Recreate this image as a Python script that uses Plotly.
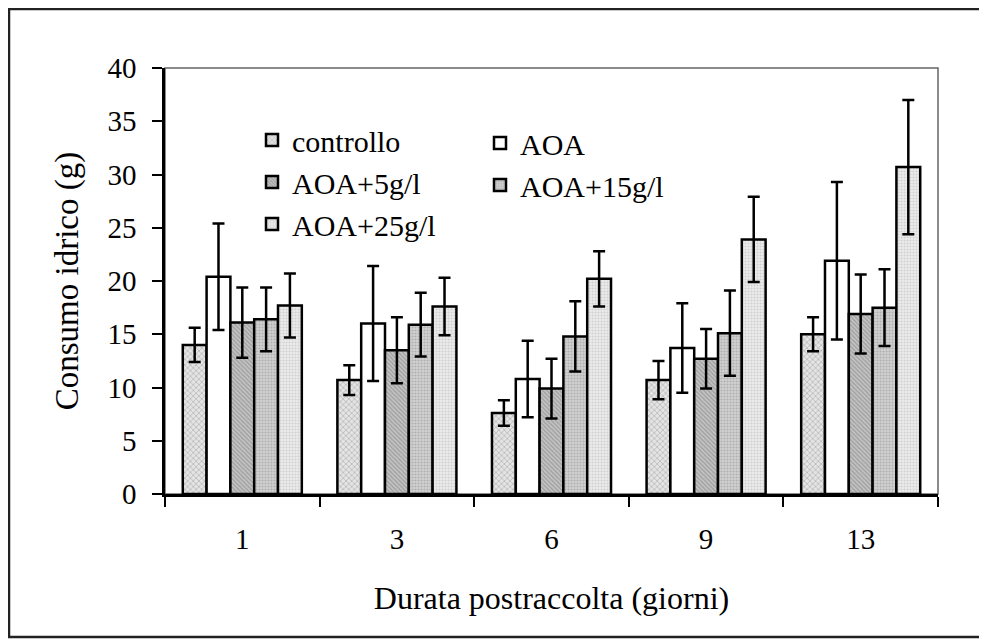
import plotly.graph_objects as go

days = ["1", "3", "6", "9", "13"]
series_names = ["controllo", "AOA", "AOA+5g/l", "AOA+15g/l", "AOA+25g/l"]
controllo = [14.0, 10.7, 7.6, 10.7, 15.0]
controllo_err = [1.6, 1.4, 1.2, 1.8, 1.6]
aoa = [20.4, 16.0, 10.8, 13.7, 21.9]
aoa_err = [5.0, 5.4, 3.6, 4.2, 7.4]
aoa5 = [16.1, 13.5, 9.9, 12.7, 16.9]
aoa5_err = [3.3, 3.1, 2.8, 2.8, 3.7]
aoa15 = [16.4, 15.9, 14.8, 15.1, 17.5]
aoa15_err = [3.0, 3.0, 3.3, 4.0, 3.6]
aoa25 = [17.7, 17.6, 20.2, 23.9, 30.7]
aoa25_err = [3.0, 2.7, 2.6, 4.0, 6.3]

values = [controllo, aoa, aoa5, aoa15, aoa25]
errors = [controllo_err, aoa_err, aoa5_err, aoa15_err, aoa25_err]
patterns = [
    dict(shape="x", size=4, fgcolor="#8a8a8a", bgcolor="#e4e4e4", solidity=0.35),
    dict(shape="", bgcolor="white"),
    dict(shape="\\", size=3, fgcolor="#7a7a7a", bgcolor="#c4c4c4", solidity=0.45),
    dict(shape=".", size=3, fgcolor="#8c8c8c", bgcolor="#d2d2d2", solidity=0.4),
    dict(shape=".", size=3, fgcolor="#b4b4b4", bgcolor="#ececec", solidity=0.4),
]
legend_ids = ["legend", "legend2", "legend", "legend2", "legend"]

FONT = "Liberation Serif, Times New Roman, Times, DejaVu Serif, serif"
LEGFONT = "Times New Roman"
# page body has an 8px offset; plot area in screenshot: x 165..938, y 68..494
OFF = 8
L, R, T, B = 165 - OFF, 987 - 938 + OFF, 68 - OFF, 639 - 494 + OFF
PW, PH = 987 - L - R, 639 - T - B


def px(xs):
    return (xs - OFF - L) / PW


def py(ys):
    return (639 - B - (ys - OFF)) / PH


fig = go.Figure()
for name, v, e, p, lg in zip(series_names, values, errors, patterns, legend_ids):
    fig.add_trace(go.Bar(
        x=days, y=v, name=name, legend=lg,
        marker=dict(color=p.get("bgcolor", "white"), pattern=p,
                    line=dict(color="black", width=2.5)),
        error_y=dict(type="data", array=e, visible=True, color="black",
                     thickness=2.5, width=6),
    ))

fig.update_layout(
    width=987, height=639,
    margin=dict(l=L, r=R, t=T, b=B),
    paper_bgcolor="white", plot_bgcolor="white",
    barmode="group", bargap=0.23, bargroupgap=0,
    font=dict(family=FONT, size=29, color="black"),
    xaxis=dict(
        type="category", tickson="boundaries", ticks="outside", ticklen=10,
        tickwidth=1.5, tickcolor="black", showline=True, linecolor="black",
        linewidth=2.5, showgrid=False, tickfont=dict(family=FONT, size=29),
        ticklabelstandoff=17,
        title=dict(text="Durata postraccolta (giorni)", font=dict(family=FONT, size=32), standoff=34),
    ),
    yaxis=dict(
        range=[0, 40], dtick=5, ticks="outside", ticklen=10, tickwidth=1.5,
        tickcolor="black", showline=True, linecolor="black", linewidth=2.5,
        showgrid=False, zeroline=False, tickfont=dict(family=FONT, size=29),
        ticklabelstandoff=10,
        title=dict(text="Consumo idrico (g)", font=dict(family=FONT, size=33), standoff=19),
    ),
    legend=dict(x=px(252), y=py(114), xanchor="left", yanchor="top",
                bgcolor="rgba(0,0,0,0)", font=dict(family=LEGFONT, size=30, color="black"),
                tracegroupgap=0, itemwidth=30),
    legend2=dict(x=px(480), y=py(117), xanchor="left", yanchor="top",
                 bgcolor="rgba(0,0,0,0)", font=dict(family=LEGFONT, size=30, color="black"),
                 tracegroupgap=0, itemwidth=30),
    shapes=[
        dict(type="rect", xref="paper", yref="paper", x0=0, x1=1, y0=0, y1=1,
             line=dict(color="#666666", width=1.5), layer="below"),
        dict(type="rect", xref="paper", yref="paper",
             x0=px(9), x1=px(1000), y0=py(637), y1=py(9),
             line=dict(color="#222222", width=2.5), layer="below"),
    ],
)

fig.write_html("out.html")
